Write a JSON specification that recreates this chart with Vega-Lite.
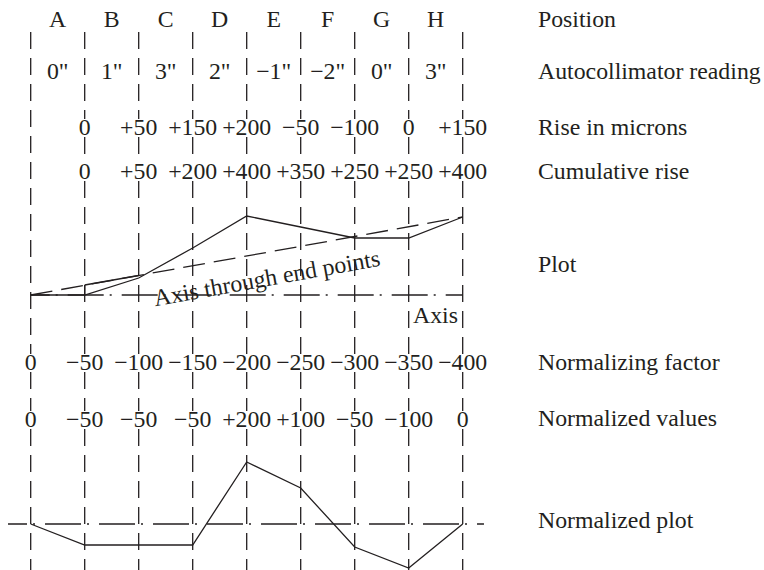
{
  "$schema": "https://vega.github.io/schema/vega-lite/v6.json",
  "width": 764,
  "height": 570,
  "padding": 0,
  "autosize": {"type": "none"},
  "background": "white",
  "config": {
    "view": {"stroke": null},
    "text": {"font": "Liberation Serif", "fontSize": 23.8, "color": "#231f20"}
  },
  "datasets": {
    "grid": [
      {"pos": 0, "y1": 32, "y2": 354}, {"pos": 0, "y1": 372, "y2": 411}, {"pos": 0, "y1": 429, "y2": 570},
      {"pos": 1, "y1": 32, "y2": 119}, {"pos": 1, "y1": 137, "y2": 163}, {"pos": 1, "y1": 181, "y2": 354}, {"pos": 1, "y1": 372, "y2": 411}, {"pos": 1, "y1": 429, "y2": 570},
      {"pos": 2, "y1": 32, "y2": 119}, {"pos": 2, "y1": 137, "y2": 163}, {"pos": 2, "y1": 181, "y2": 354}, {"pos": 2, "y1": 372, "y2": 411}, {"pos": 2, "y1": 429, "y2": 570},
      {"pos": 3, "y1": 32, "y2": 119}, {"pos": 3, "y1": 137, "y2": 163}, {"pos": 3, "y1": 181, "y2": 354}, {"pos": 3, "y1": 372, "y2": 411}, {"pos": 3, "y1": 429, "y2": 570},
      {"pos": 4, "y1": 32, "y2": 119}, {"pos": 4, "y1": 137, "y2": 163}, {"pos": 4, "y1": 181, "y2": 354}, {"pos": 4, "y1": 372, "y2": 411}, {"pos": 4, "y1": 429, "y2": 570},
      {"pos": 5, "y1": 32, "y2": 119}, {"pos": 5, "y1": 137, "y2": 163}, {"pos": 5, "y1": 181, "y2": 354}, {"pos": 5, "y1": 372, "y2": 411}, {"pos": 5, "y1": 429, "y2": 570},
      {"pos": 6, "y1": 32, "y2": 119}, {"pos": 6, "y1": 137, "y2": 163}, {"pos": 6, "y1": 181, "y2": 354}, {"pos": 6, "y1": 372, "y2": 411}, {"pos": 6, "y1": 429, "y2": 570},
      {"pos": 7, "y1": 32, "y2": 119}, {"pos": 7, "y1": 137, "y2": 163}, {"pos": 7, "y1": 181, "y2": 354}, {"pos": 7, "y1": 372, "y2": 411}, {"pos": 7, "y1": 429, "y2": 570},
      {"pos": 8, "y1": 32, "y2": 119}, {"pos": 8, "y1": 137, "y2": 163}, {"pos": 8, "y1": 181, "y2": 354}, {"pos": 8, "y1": 372, "y2": 411}, {"pos": 8, "y1": 429, "y2": 570}
    ],
    "lines": [
      {"series": "plot", "style": "solid", "ord": 0, "pos": 0, "y": 295},
      {"series": "plot", "style": "solid", "ord": 1, "pos": 1, "y": 295},
      {"series": "plot", "style": "solid", "ord": 2, "pos": 2, "y": 278},
      {"series": "plot", "style": "solid", "ord": 3, "pos": 3, "y": 248},
      {"series": "plot", "style": "solid", "ord": 4, "pos": 4, "y": 216},
      {"series": "plot", "style": "solid", "ord": 5, "pos": 5, "y": 227},
      {"series": "plot", "style": "solid", "ord": 6, "pos": 6, "y": 238},
      {"series": "plot", "style": "solid", "ord": 7, "pos": 7, "y": 238},
      {"series": "plot", "style": "solid", "ord": 8, "pos": 8, "y": 217},
      {"series": "bc", "style": "solid", "ord": 0, "pos": 1, "y": 285},
      {"series": "bc", "style": "solid", "ord": 1, "pos": 2, "y": 275.5},
      {"series": "btick", "style": "solid", "ord": 0, "pos": 1, "y": 285},
      {"series": "btick", "style": "solid", "ord": 1, "pos": 1, "y": 295},
      {"series": "norm", "style": "solid", "ord": 0, "pos": 0, "y": 524},
      {"series": "norm", "style": "solid", "ord": 1, "pos": 1, "y": 545},
      {"series": "norm", "style": "solid", "ord": 2, "pos": 2, "y": 545},
      {"series": "norm", "style": "solid", "ord": 3, "pos": 3, "y": 545},
      {"series": "norm", "style": "solid", "ord": 4, "pos": 4, "y": 462},
      {"series": "norm", "style": "solid", "ord": 5, "pos": 5, "y": 488},
      {"series": "norm", "style": "solid", "ord": 6, "pos": 6, "y": 547},
      {"series": "norm", "style": "solid", "ord": 7, "pos": 7, "y": 568},
      {"series": "norm", "style": "solid", "ord": 8, "pos": 8, "y": 524},
      {"series": "endaxis", "style": "dashed", "ord": 0, "pos": 0, "y": 295},
      {"series": "endaxis", "style": "dashed", "ord": 1, "pos": 8, "y": 217},
      {"series": "plotaxis", "style": "dashdot", "ord": 0, "pos": 0, "y": 295},
      {"series": "plotaxis", "style": "dashdot", "ord": 1, "pos": 8, "y": 295},
      {"series": "normaxis", "style": "dashdot", "ord": 0, "pos": -0.42, "y": 524},
      {"series": "normaxis", "style": "dashdot", "ord": 1, "pos": 8.394, "y": 524}
    ],
    "labels": [
      {"group": "c", "pos": 0.5, "y": 20, "text": "A"},
      {"group": "c", "pos": 1.5, "y": 20, "text": "B"},
      {"group": "c", "pos": 2.5, "y": 20, "text": "C"},
      {"group": "c", "pos": 3.5, "y": 20, "text": "D"},
      {"group": "c", "pos": 4.5, "y": 20, "text": "E"},
      {"group": "c", "pos": 5.5, "y": 20, "text": "F"},
      {"group": "c", "pos": 6.5, "y": 20, "text": "G"},
      {"group": "c", "pos": 7.5, "y": 20, "text": "H"},
      {"group": "c", "pos": 0.5, "y": 72, "text": "0\""},
      {"group": "c", "pos": 1.5, "y": 72, "text": "1\""},
      {"group": "c", "pos": 2.5, "y": 72, "text": "3\""},
      {"group": "c", "pos": 3.5, "y": 72, "text": "2\""},
      {"group": "c", "pos": 4.5, "y": 72, "text": "−1\""},
      {"group": "c", "pos": 5.5, "y": 72, "text": "−2\""},
      {"group": "c", "pos": 6.5, "y": 72, "text": "0\""},
      {"group": "c", "pos": 7.5, "y": 72, "text": "3\""},
      {"group": "c", "pos": 1, "y": 128, "text": "0"},
      {"group": "c", "pos": 2, "y": 128, "text": "+50"},
      {"group": "c", "pos": 3, "y": 128, "text": "+150"},
      {"group": "c", "pos": 4, "y": 128, "text": "+200"},
      {"group": "c", "pos": 5, "y": 128, "text": "−50"},
      {"group": "c", "pos": 6, "y": 128, "text": "−100"},
      {"group": "c", "pos": 7, "y": 128, "text": "0"},
      {"group": "c", "pos": 8, "y": 128, "text": "+150"},
      {"group": "c", "pos": 1, "y": 172, "text": "0"},
      {"group": "c", "pos": 2, "y": 172, "text": "+50"},
      {"group": "c", "pos": 3, "y": 172, "text": "+200"},
      {"group": "c", "pos": 4, "y": 172, "text": "+400"},
      {"group": "c", "pos": 5, "y": 172, "text": "+350"},
      {"group": "c", "pos": 6, "y": 172, "text": "+250"},
      {"group": "c", "pos": 7, "y": 172, "text": "+250"},
      {"group": "c", "pos": 8, "y": 172, "text": "+400"},
      {"group": "c", "pos": 0, "y": 363, "text": "0"},
      {"group": "c", "pos": 1, "y": 363, "text": "−50"},
      {"group": "c", "pos": 2, "y": 363, "text": "−100"},
      {"group": "c", "pos": 3, "y": 363, "text": "−150"},
      {"group": "c", "pos": 4, "y": 363, "text": "−200"},
      {"group": "c", "pos": 5, "y": 363, "text": "−250"},
      {"group": "c", "pos": 6, "y": 363, "text": "−300"},
      {"group": "c", "pos": 7, "y": 363, "text": "−350"},
      {"group": "c", "pos": 8, "y": 363, "text": "−400"},
      {"group": "c", "pos": 0, "y": 420, "text": "0"},
      {"group": "c", "pos": 1, "y": 420, "text": "−50"},
      {"group": "c", "pos": 2, "y": 420, "text": "−50"},
      {"group": "c", "pos": 3, "y": 420, "text": "−50"},
      {"group": "c", "pos": 4, "y": 420, "text": "+200"},
      {"group": "c", "pos": 5, "y": 420, "text": "+100"},
      {"group": "c", "pos": 6, "y": 420, "text": "−50"},
      {"group": "c", "pos": 7, "y": 420, "text": "−100"},
      {"group": "c", "pos": 8, "y": 420, "text": "0"},
      {"group": "l", "pos": 9.394, "y": 20, "text": "Position"},
      {"group": "l", "pos": 9.394, "y": 72, "text": "Autocollimator reading"},
      {"group": "l", "pos": 9.394, "y": 128, "text": "Rise in microns"},
      {"group": "l", "pos": 9.394, "y": 172, "text": "Cumulative rise"},
      {"group": "l", "pos": 9.394, "y": 265, "text": "Plot"},
      {"group": "l", "pos": 9.394, "y": 363, "text": "Normalizing factor"},
      {"group": "l", "pos": 9.394, "y": 419, "text": "Normalized values"},
      {"group": "l", "pos": 9.394, "y": 521, "text": "Normalized plot"},
      {"group": "l", "pos": 7.08, "y": 316, "text": "Axis"},
      {"group": "r", "pos": 4.376, "y": 279, "text": "Axis through end points"}
    ]
  },
  "layer": [
    {
      "data": {"name": "grid"},
      "mark": {"type": "rule", "strokeDash": [17, 9], "strokeWidth": 1.3, "color": "#231f20"},
      "encoding": {
        "x": {"field": "pos", "type": "quantitative", "scale": {"domain": [-0.5685, 13.5797], "nice": false, "zero": false}, "axis": null},
        "y": {"field": "y1", "type": "quantitative", "scale": {"domain": [0, 570], "reverse": true, "nice": false, "zero": false}, "axis": null},
        "y2": {"field": "y2"}
      }
    },
    {
      "data": {"name": "lines"},
      "transform": [{"filter": "datum.style === 'solid'"}],
      "mark": {"type": "line", "strokeWidth": 1.3, "color": "#231f20"},
      "encoding": {
        "x": {"field": "pos", "type": "quantitative", "scale": {"domain": [-0.5685, 13.5797], "nice": false, "zero": false}, "axis": null},
        "y": {"field": "y", "type": "quantitative", "scale": {"domain": [0, 570], "reverse": true, "nice": false, "zero": false}, "axis": null},
        "detail": {"field": "series", "type": "nominal"},
        "order": {"field": "ord", "type": "quantitative"}
      }
    },
    {
      "data": {"name": "lines"},
      "transform": [{"filter": "datum.style === 'dashed'"}],
      "mark": {"type": "line", "strokeWidth": 1.3, "color": "#231f20", "strokeDash": [22, 9]},
      "encoding": {
        "x": {"field": "pos", "type": "quantitative", "scale": {"domain": [-0.5685, 13.5797], "nice": false, "zero": false}, "axis": null},
        "y": {"field": "y", "type": "quantitative", "scale": {"domain": [0, 570], "reverse": true, "nice": false, "zero": false}, "axis": null},
        "detail": {"field": "series", "type": "nominal"},
        "order": {"field": "ord", "type": "quantitative"}
      }
    },
    {
      "data": {"name": "lines"},
      "transform": [{"filter": "datum.style === 'dashdot'"}],
      "mark": {"type": "line", "strokeWidth": 1.3, "color": "#231f20", "strokeDash": [36, 6, 2, 10], "strokeDashOffset": 17},
      "encoding": {
        "x": {"field": "pos", "type": "quantitative", "scale": {"domain": [-0.5685, 13.5797], "nice": false, "zero": false}, "axis": null},
        "y": {"field": "y", "type": "quantitative", "scale": {"domain": [0, 570], "reverse": true, "nice": false, "zero": false}, "axis": null},
        "detail": {"field": "series", "type": "nominal"},
        "order": {"field": "ord", "type": "quantitative"}
      }
    },
    {
      "data": {"name": "labels"},
      "transform": [{"filter": "datum.group === 'c'"}],
      "mark": {"type": "text", "align": "center", "baseline": "middle"},
      "encoding": {
        "x": {"field": "pos", "type": "quantitative", "scale": {"domain": [-0.5685, 13.5797], "nice": false, "zero": false}, "axis": null},
        "y": {"field": "y", "type": "quantitative", "scale": {"domain": [0, 570], "reverse": true, "nice": false, "zero": false}, "axis": null},
        "text": {"field": "text", "type": "nominal"}
      }
    },
    {
      "data": {"name": "labels"},
      "transform": [{"filter": "datum.group === 'l'"}],
      "mark": {"type": "text", "align": "left", "baseline": "middle"},
      "encoding": {
        "x": {"field": "pos", "type": "quantitative", "scale": {"domain": [-0.5685, 13.5797], "nice": false, "zero": false}, "axis": null},
        "y": {"field": "y", "type": "quantitative", "scale": {"domain": [0, 570], "reverse": true, "nice": false, "zero": false}, "axis": null},
        "text": {"field": "text", "type": "nominal"}
      }
    },
    {
      "data": {"name": "labels"},
      "transform": [{"filter": "datum.group === 'r'"}],
      "mark": {"type": "text", "align": "center", "baseline": "middle", "angle": -10.2},
      "encoding": {
        "x": {"field": "pos", "type": "quantitative", "scale": {"domain": [-0.5685, 13.5797], "nice": false, "zero": false}, "axis": null},
        "y": {"field": "y", "type": "quantitative", "scale": {"domain": [0, 570], "reverse": true, "nice": false, "zero": false}, "axis": null},
        "text": {"field": "text", "type": "nominal"}
      }
    }
  ]
}
